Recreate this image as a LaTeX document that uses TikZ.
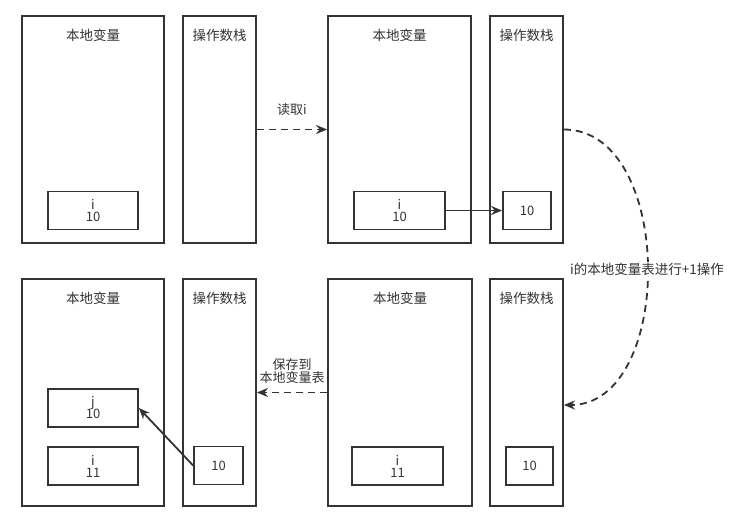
\documentclass[tikz,border=0pt]{standalone}
\usepackage{fontspec}
\setmainfont{Noto Sans CJK SC}
\usetikzlibrary{arrows.meta,positioning,calc}
\definecolor{LineGray}{HTML}{333333}
\definecolor{TextGray}{HTML}{333333}
\tikzset{
  frame/.style={rectangle,draw=LineGray,line width=1.8pt,
                minimum width=#1,minimum height=227pt,inner sep=0pt},
  cell/.style={rectangle,draw=LineGray,line width=1.8pt,align=center,
               minimum width=#1,minimum height=38pt,inner sep=0pt,
               font=\fontsize{13}{15}\selectfont\color{TextGray}},
  title/.style={font=\fontsize{13.5}{15}\selectfont\color{TextGray}},
  lbl/.style={font=\fontsize{13}{15}\selectfont\color{TextGray},align=center},
  arr/.style={-{Stealth[length=11pt,width=9pt]},line width=1.8pt,color=LineGray},
  darr/.style={arr,dash pattern=on 7pt off 5pt},
}
\begin{document}
\begin{tikzpicture}[x=1pt,y=-1pt]
  \useasboundingbox (0,0) rectangle (734,527);

  % top row: before reading i
  \node[frame=142pt] (loc1) at (93,129.5){};
  \node[frame=73pt]  (stk1) at (219.5,129.5){};
  \node[title] at (93,35){本地变量};
  \node[title] at (219.5,35){操作数栈};
  \node[cell=90pt] (loc1i) at (93,210.5){i\\[-3pt]10};

  \node[frame=143pt] (loc2) at (399.5,129.5){};
  \node[frame=73pt]  (stk2) at (526.5,129.5){};
  \node[title] at (399.5,35){本地变量};
  \node[title] at (526.5,35){操作数栈};
  \node[cell=91pt] (loc2i) at (399.5,210.5){i\\[-3pt]10};
  \node[cell=48pt] (stk2v) at (527,210.5){10};

  % bottom row: after iinc and store
  \node[frame=142pt] (loc4) at (93,392.5){};
  \node[frame=73pt]  (stk4) at (219.5,392.5){};
  \node[title] at (93,298){本地变量};
  \node[title] at (219.5,298){操作数栈};
  \node[cell=90pt] (loc4j) at (93,408){j\\[-3pt]10};
  \node[cell=90pt] (loc4i) at (93,466){i\\[-3pt]11};
  \node[cell=49pt] (stk4v) at (218.5,465.5){10};

  \node[frame=144pt] (loc3) at (400,392.5){};
  \node[frame=73pt]  (stk3) at (526.5,392.5){};
  \node[title] at (400,298){本地变量};
  \node[title] at (526.5,298){操作数栈};
  \node[cell=91pt] (loc3i) at (397.5,466){i\\[-3pt]11};
  \node[cell=47pt] (stk3v) at (529.5,466){10};

  % connectors
  \draw[darr] (stk1.east) -- (loc2.west);
  \node[lbl] at (292,110){读取i};
  \draw[arr] (loc2i.east) -- (stk2v.west);

  \draw[darr] (stk2.east) .. controls (675,129.5) and (675,405)
    .. ([yshift=-12.5pt]stk3.east);
  \node[lbl,fill=white,inner sep=1pt,font=\fontsize{13.5}{15}\selectfont\color{TextGray}]
    at (647,269){i的本地变量表进行+1操作};

  \draw[darr] (loc3.west) -- (stk4.east);
  \node[lbl] at (292,371){保存到\\[-2pt]本地变量表};
  \draw[arr] (stk4v.west) -- (loc4j.east);
\end{tikzpicture}
\end{document}
